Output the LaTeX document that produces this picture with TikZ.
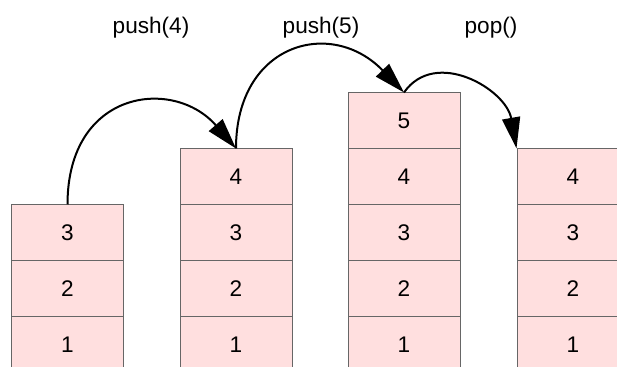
\documentclass[tikz,border=0pt]{standalone}
\usepackage{fontspec}
\setmainfont{Liberation Sans}
\usepackage{xcolor}
\usetikzlibrary{arrows.meta}
\definecolor{stackpink}{HTML}{FFDFDF}

\begin{document}
\begin{tikzpicture}[x=0.5pt,y=0.5pt,>={Triangle[length=15.5pt,width=9pt]},node distance=28pt,
                    cell node/.style={rectangle,draw=black!60,fill=stackpink,line width=0.5pt,
                      minimum width=56pt,minimum height=28pt,inner sep=0pt,font=\fontsize{11.3}{13}\selectfont},
                    op label/.style={font=\fontsize{11.3}{13}\selectfont},
                    op arrow/.style={->,line width=1pt}]

  \useasboundingbox (0,0) rectangle (617,367);

  % stack before push(4)
  \node[cell node] (a1) at (67.5,22) {1};
  \node[cell node] (a2) [above of=a1] {2};
  \node[cell node] (a3) [above of=a2] {3};

  % after push(4)
  \node[cell node] (b1) at (236,22) {1};
  \node[cell node] (b2) [above of=b1] {2};
  \node[cell node] (b3) [above of=b2] {3};
  \node[cell node] (b4) [above of=b3] {4};

  % after push(5)
  \node[cell node] (c1) at (404,22) {1};
  \node[cell node] (c2) [above of=c1] {2};
  \node[cell node] (c3) [above of=c2] {3};
  \node[cell node] (c4) [above of=c3] {4};
  \node[cell node] (c5) [above of=c4] {5};

  % after pop()
  \node[cell node] (d1) at (573,22) {1};
  \node[cell node] (d2) [above of=d1] {2};
  \node[cell node] (d3) [above of=d2] {3};
  \node[cell node] (d4) [above of=d3] {4};

  \node[op label] (push4) at (151,339) {push(4)};
  \node[op label] (push5) at (321,339) {push(5)};
  \node[op label] (pop) at (491,339) {pop()};

  \draw[op arrow] (a3.north) .. controls +(90:115) and +(131:95) .. (b4.north);
  \draw[op arrow] (b4.north) .. controls +(90:105) and +(134:105) .. (c5.north);
  \draw[op arrow] (c5.north) .. controls +(55:55) and +(100:60) .. (d4.north west);
\end{tikzpicture}
\end{document}
